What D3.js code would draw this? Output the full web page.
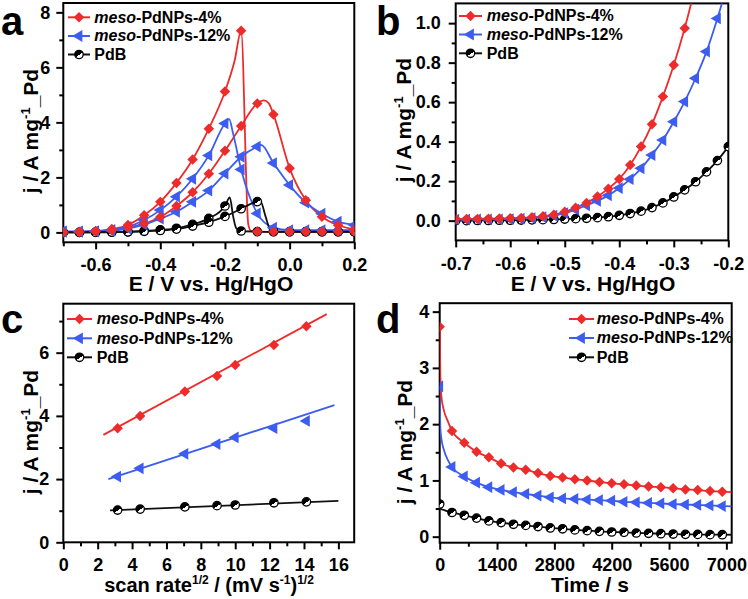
<!DOCTYPE html>
<html><head><meta charset="utf-8">
<script src="https://cdn.jsdelivr.net/npm/d3@7"></script>
<style>
body{margin:0;background:#fff}
svg{display:block}
text{font-family:"Liberation Sans",Arial,Helvetica,sans-serif;font-weight:bold;fill:#000}
</style>
</head><body>
<svg id="chart" width="748" height="599"></svg>
<script>
// ---------------- DATA ----------------
const seriesNames = ["meso-PdNPs-4%", "meso-PdNPs-12%", "PdB"];
const seriesColors = ["#ee2b2b", "#3d5cf0", "#111111"];

// Panel a: CV curves [E (V), j (A/mg)] — two branches per sample
const aRedUpper = [[-0.7,0.01],[-0.65,0.02],[-0.6,0.05],[-0.55,0.12],[-0.5,0.27],[-0.45,0.62],[-0.4,1.11],[-0.35,1.8],[-0.3,2.65],[-0.25,3.77],[-0.2,5.12],[-0.17,6.25],[-0.15,7.33],[-0.128,0.3],[-0.12,0.06],[-0.1,0.03],[-0.05,0.02],[0,0.02],[0.05,0.02],[0.1,0.02],[0.15,0.02],[0.2,0.02]];
const aRedLower = [[-0.7,0.0],[-0.65,0.01],[-0.6,0.03],[-0.55,0.08],[-0.5,0.18],[-0.45,0.32],[-0.4,0.56],[-0.35,0.96],[-0.3,1.46],[-0.25,2.13],[-0.2,2.97],[-0.15,3.87],[-0.1,4.69],[-0.08,4.8],[-0.065,4.7],[-0.05,4.29],[0,2.33],[0.05,1.17],[0.1,0.57],[0.15,0.26],[0.2,0.11]];
const aBlueUpper = [[-0.7,0.04],[-0.65,0.04],[-0.6,0.05],[-0.55,0.09],[-0.5,0.2],[-0.45,0.45],[-0.4,0.81],[-0.35,1.3],[-0.3,1.95],[-0.25,2.8],[-0.2,3.96],[-0.187,4.12],[-0.175,3.6],[-0.15,2.29],[-0.1,0.69],[-0.05,0.17],[0,0.08],[0.05,0.08],[0.1,0.08],[0.15,0.08],[0.2,0.08]];
const aBlueLower = [[-0.7,0.02],[-0.65,0.02],[-0.6,0.03],[-0.55,0.06],[-0.5,0.14],[-0.45,0.28],[-0.4,0.5],[-0.35,0.75],[-0.3,1.11],[-0.25,1.52],[-0.2,2.14],[-0.15,2.75],[-0.1,3.12],[-0.088,3.18],[-0.05,2.52],[0,1.72],[0.05,1.08],[0.1,0.68],[0.15,0.39],[0.2,0.27]];
const aBlackUpper = [[-0.7,0.0],[-0.65,0.0],[-0.6,0.01],[-0.55,0.01],[-0.5,0.02],[-0.45,0.05],[-0.4,0.09],[-0.35,0.15],[-0.3,0.29],[-0.25,0.51],[-0.2,0.96],[-0.185,1.27],[-0.175,0.6],[-0.165,0.15],[-0.15,0.05],[-0.1,0.03],[-0.05,0.02],[0,0.02],[0.05,0.02],[0.1,0.02],[0.15,0.02],[0.2,0.02]];
const aBlackLower = [[-0.7,0.0],[-0.65,0.0],[-0.6,0.0],[-0.55,0.01],[-0.5,0.02],[-0.45,0.04],[-0.4,0.07],[-0.35,0.12],[-0.3,0.23],[-0.25,0.37],[-0.2,0.58],[-0.15,0.86],[-0.1,1.12],[-0.09,1.13],[-0.075,0.6],[-0.06,0.1],[-0.05,0.05],[0,0.03],[0.05,0.03],[0.1,0.03],[0.15,0.03],[0.2,0.03]];

// Panel b: LSV, potential (V) and current (A/mg)
const bE = [-0.7,-0.68,-0.66,-0.64,-0.62,-0.6,-0.58,-0.56,-0.54,-0.52,-0.5,-0.48,-0.46,-0.44,-0.42,-0.4,-0.38,-0.36,-0.34,-0.32,-0.3,-0.28,-0.26,-0.24,-0.22,-0.2];
const bRed = [0.008,0.009,0.009,0.010,0.011,0.012,0.014,0.017,0.022,0.030,0.045,0.065,0.090,0.122,0.162,0.211,0.282,0.375,0.488,0.628,0.788,0.974,1.19,1.42,1.68,1.95];
const bBlue = [0.005,0.005,0.006,0.006,0.007,0.008,0.010,0.013,0.018,0.026,0.038,0.056,0.078,0.100,0.128,0.165,0.210,0.265,0.332,0.408,0.501,0.603,0.721,0.856,1.024,1.21];
const bBlack = [0.0,0.0,0.001,0.001,0.002,0.002,0.003,0.004,0.005,0.006,0.008,0.010,0.012,0.015,0.020,0.027,0.036,0.048,0.066,0.090,0.120,0.156,0.197,0.247,0.304,0.375];

// Panel c: scan-rate dependence
const cX = [3.16, 4.47, 7.07, 8.94, 10.0, 12.25, 14.14];
const cRed = [3.61, 4.0, 4.77, 5.26, 5.61, 6.24, 6.84];
const cBlue = [2.08, 2.34, 2.80, 3.11, 3.32, 3.61, 3.84];
const cBlack = [1.02, 1.05, 1.12, 1.16, 1.18, 1.25, 1.28];
const cFitRed = [[2.33, 3.40], [15.32, 7.22]];
const cFitBlue = [[2.62, 2.00], [15.77, 4.34]];
const cFitBlack = [[2.72, 1.01], [16.0, 1.31]];

// Panel d: chronoamperometry, time (s)
const dT = [0,300,600,900,1200,1500,1800,2100,2400,2700,3000,3300,3600,3900,4200,4500,4800,5100,5400,5700,6000,6300,6600,6900];
const dRed = [3.73,1.88,1.67,1.51,1.41,1.30,1.23,1.19,1.13,1.08,1.05,1.02,1.00,0.97,0.95,0.93,0.91,0.89,0.88,0.86,0.84,0.83,0.81,0.80];
const dBlue = [2.67,1.24,1.07,0.96,0.88,0.83,0.79,0.76,0.73,0.70,0.68,0.67,0.66,0.65,0.64,0.62,0.61,0.60,0.59,0.58,0.57,0.565,0.555,0.545];
const dBlack = [0.58,0.43,0.38,0.33,0.28,0.25,0.22,0.20,0.18,0.155,0.14,0.12,0.107,0.095,0.083,0.077,0.065,0.06,0.053,0.047,0.041,0.040,0.036,0.035];
// extra curve points for the initial fast decay and the tail
const dRedExtra = [[15,2.9],[40,2.5],[100,2.25],[200,2.05],[7130,0.79]];
const dBlueExtra = [[15,1.95],[40,1.75],[100,1.55],[200,1.36],[7130,0.54]];
const dBlackStart = [[0,0.5]];
const dBlackExtra = [[7130,0.034]];

// ---------------- DRAWING ----------------
const svg = d3.select("#chart");
const defs = svg.append("defs");
const grad = defs.append("linearGradient").attr("id","halfFill")
  .attr("x1","0").attr("y1","0").attr("x2","0.7").attr("y2","1");
grad.append("stop").attr("offset","0").attr("stop-color","#000");
grad.append("stop").attr("offset","0.62").attr("stop-color","#000");
grad.append("stop").attr("offset","0.62").attr("stop-color","#fff");
grad.append("stop").attr("offset","1").attr("stop-color","#fff");

const symDiamond = d3.symbol().type(d3.symbolDiamond2).size(70)();
const symTri = d3.symbol().type(d3.symbolTriangle).size(60)();

function drawMarker(g, idx, px, py) {
  if (idx === 0) {
    g.append("path").attr("d", symDiamond).attr("transform", `translate(${px},${py})`)
      .attr("fill", seriesColors[0]);
  } else if (idx === 1) {
    g.append("path").attr("d", symTri).attr("transform", `translate(${px},${py}) rotate(-90)`)
      .attr("fill", seriesColors[1]);
  } else {
    g.append("circle").attr("cx", px).attr("cy", py).attr("r", 4.2)
      .attr("fill", "url(#halfFill)").attr("stroke", "#000").attr("stroke-width", 1.3);
  }
}

let clipCount = 0;
function makePanel(p) {
  const g = svg.append("g");
  const x = p.x, y = p.y;
  const [x0, x1] = x.range(), [y0, y1] = y.range();
  const id = "clip" + (clipCount++);
  defs.append("clipPath").attr("id", id).append("rect")
    .attr("x", x0).attr("y", y1).attr("width", x1 - x0).attr("height", y0 - y1);
  const styleAxis = (sel, fs) => {
    sel.select(".domain").remove();
    sel.attr("font-family", null).attr("font-size", null);
    sel.selectAll("line").attr("stroke", "#000").attr("stroke-width", 2);
    sel.selectAll("text").attr("font-size", fs).attr("fill", "#000");
  };
  // bottom axis
  const gb = g.append("g").attr("transform", `translate(0,${y0})`);
  gb.append("g").call(d3.axisBottom(x).tickValues(p.xMinor).tickSize(4).tickFormat("")).call(s => styleAxis(s, 18));
  gb.append("g").call(d3.axisBottom(x).tickValues(p.xMajor).tickSize(7).tickPadding(p.xPad).tickFormat(p.xFmt)).call(s => styleAxis(s, 18));
  // left axis
  const gl = g.append("g").attr("transform", `translate(${x0},0)`);
  gl.append("g").call(d3.axisLeft(y).tickValues(p.yMinor).tickSize(4).tickFormat("")).call(s => styleAxis(s, 18));
  gl.append("g").call(d3.axisLeft(y).tickValues(p.yMajor).tickSize(7).tickPadding(p.yPad).tickFormat(p.yFmt)).call(s => styleAxis(s, 18));
  // frame
  g.append("rect").attr("x", x0).attr("y", y1).attr("width", x1 - x0).attr("height", y0 - y1)
    .attr("fill", "none").attr("stroke", "#000").attr("stroke-width", 2);
  const plot = g.append("g").attr("clip-path", `url(#${id})`);
  // panel letter
  g.append("text").attr("x", p.letterX).attr("y", p.letterY).attr("font-size", 40).text(p.letter);
  // x title
  const xt = g.append("text").attr("x", p.xTitleX).attr("y", p.xTitleY).attr("text-anchor", "middle").attr("font-size", p.xTitleSize || 21);
  p.xTitle(xt);
  // y title
  const yt = g.append("text").attr("transform", `translate(${p.yTitleX},${p.yTitleY}) rotate(-90)`)
    .attr("text-anchor", "middle").attr("font-size", 21);
  yt.append("tspan").text("j / A mg");
  yt.append("tspan").attr("font-size", 13).attr("dy", -8).text("-1");
  yt.append("tspan").attr("dy", 8).text("_Pd");
  // legend
  const lg = g.append("g");
  seriesNames.forEach((name, i) => {
    const ly = p.legY[i];
    lg.append("line").attr("x1", p.legX0).attr("x2", p.legX1).attr("y1", ly).attr("y2", ly)
      .attr("stroke", seriesColors[i]).attr("stroke-width", 2);
    drawMarker(lg, i, (p.legX0 + p.legX1) / 2, ly);
    const t = lg.append("text").attr("x", p.legTX).attr("y", ly).attr("dy", "0.34em").attr("font-size", 16);
    if (name.startsWith("meso")) {
      t.append("tspan").attr("font-style", "italic").text("meso");
      t.append("tspan").text(name.slice(4));
    } else t.text(name);
  });
  return {g, plot, x, y};
}

function drawLine(P, pts, idx, curve) {
  P.plot.append("path").datum(pts)
    .attr("d", d3.line().x(d => P.x(d[0])).y(d => P.y(d[1])).curve(curve || d3.curveMonotoneX))
    .attr("fill", "none").attr("stroke", seriesColors[idx]).attr("stroke-width", 1.8);
}
function drawMarkers(P, pts, idx) {
  pts.forEach(d => drawMarker(P.plot, idx, P.x(d[0]), P.y(d[1])));
}
const fmt1 = v => v.toFixed(1);
const fmt0 = v => String(v);

// ---- Panel a
const PA = makePanel({
  x: d3.scaleLinear([-0.7, 0.2], [63.3, 354.3]),
  y: d3.scaleLinear([-0.36, 8.34], [242.3, 3]),
  xMajor: [-0.6, -0.4, -0.2, 0, 0.2], xMinor: [-0.7, -0.5, -0.3, -0.1, 0.1], xFmt: fmt1, xPad: 8.5,
  yMajor: [0, 2, 4, 6, 8], yMinor: [1, 3, 5, 7], yFmt: fmt0, yPad: 6,
  letter: "a", letterX: 1, letterY: 35,
  xTitleX: 211, xTitleY: 291, xTitle: t => t.text("E / V vs. Hg/HgO"),
  yTitleX: 38, yTitleY: 131,
  legX0: 68, legX1: 90, legTX: 94.3, legY: [17.3, 36, 54.5]
});
const on005 = d => Math.abs(d[0] / 0.05 - Math.round(d[0] / 0.05)) < 1e-6;
[[aRedUpper, 0], [aRedLower, 0], [aBlueUpper, 1], [aBlueLower, 1], [aBlackUpper, 2], [aBlackLower, 2]]
  .forEach(([pts, i]) => drawLine(PA, pts, i));
[[aBlackUpper, 2], [aBlackLower, 2], [aBlueUpper, 1], [aBlueLower, 1], [aRedUpper, 0], [aRedLower, 0]]
  .forEach(([pts, i]) => drawMarkers(PA, pts.filter(on005), i));

// ---- Panel b
const PB = makePanel({
  x: d3.scaleLinear([-0.7, -0.2], [455.7, 728.3]),
  y: d3.scaleLinear([-0.1, 1.1], [240.4, 3.4]),
  xMajor: [-0.7, -0.6, -0.5, -0.4, -0.3, -0.2], xMinor: [-0.65, -0.55, -0.45, -0.35, -0.25], xFmt: fmt1, xPad: 9.5,
  yMajor: [0, 0.2, 0.4, 0.6, 0.8, 1.0], yMinor: [0.1, 0.3, 0.5, 0.7, 0.9], yFmt: fmt1, yPad: 8,
  letter: "b", letterX: 376, letterY: 35,
  xTitleX: 593, xTitleY: 291, xTitle: t => t.text("E / V vs. Hg/HgO"),
  yTitleX: 411, yTitleY: 120,
  legX0: 459, legX1: 482, legTX: 486.7, legY: [16, 34.5, 53.3]
});
[[bBlack, 2], [bBlue, 1], [bRed, 0]].forEach(([vals, i]) => {
  const pts = bE.map((e, k) => [e, vals[k]]);
  drawLine(PB, pts, i);
});
[[bBlack, 2], [bBlue, 1], [bRed, 0]].forEach(([vals, i]) => {
  drawMarkers(PB, bE.map((e, k) => [e, vals[k]]), i);
});

// ---- Panel c
const PC = makePanel({
  x: d3.scaleLinear([0, 16.92], [63.3, 354.2]),
  y: d3.scaleLinear([0, 7.55], [542.3, 303.7]),
  xMajor: [0, 2, 4, 6, 8, 10, 12, 14, 16], xMinor: [1, 3, 5, 7, 9, 11, 13, 15], xFmt: fmt0, xPad: 9,
  yMajor: [0, 2, 4, 6], yMinor: [1, 3, 5, 7], yFmt: fmt0, yPad: 7,
  letter: "c", letterX: 1, letterY: 333,
  xTitleX: 209, xTitleY: 592, xTitleSize: 20, xTitle: t => {
    t.append("tspan").text("scan rate");
    t.append("tspan").attr("font-size", 12).attr("dy", -8).text("1/2");
    t.append("tspan").attr("dy", 8).text(" / (mV s");
    t.append("tspan").attr("font-size", 12).attr("dy", -8).text("-1");
    t.append("tspan").attr("dy", 8).text(")");
    t.append("tspan").attr("font-size", 12).attr("dy", -8).text("1/2");
  },
  yTitleX: 38, yTitleY: 432,
  legX0: 67, legX1: 92, legTX: 96.7, legY: [319, 338.3, 357.3]
});
[[cFitRed, 0], [cFitBlue, 1], [cFitBlack, 2]].forEach(([pts, i]) => drawLine(PC, pts, i, d3.curveLinear));
[[cRed, 0], [cBlue, 1], [cBlack, 2]].forEach(([vals, i]) => drawMarkers(PC, cX.map((v, k) => [v, vals[k]]), i));

// ---- Panel d
const PD = makePanel({
  x: d3.scaleLinear([0, 7130], [439.7, 731.7]),
  y: d3.scaleLinear([-0.107, 4.15], [542.7, 303.2]),
  xMajor: [0, 1400, 2800, 4200, 5600, 7000], xMinor: [700, 2100, 3500, 4900, 6300], xFmt: fmt0, xPad: 9,
  yMajor: [0, 1, 2, 3, 4], yMinor: [0.5, 1.5, 2.5, 3.5], yFmt: fmt0, yPad: 3.5,
  letter: "d", letterX: 376, letterY: 333,
  xTitleX: 590, xTitleY: 592, xTitle: t => t.text("Time / s"),
  yTitleX: 411.5, yTitleY: 442,
  legX0: 569, legX1: 594, legTX: 596.7, legY: [319, 338, 357.3]
});
const byT = (a, b) => a[0] - b[0];
drawLine(PD, dT.map((t, k) => [t, dBlack[k]]).slice(1).concat(dBlackStart, dBlackExtra).sort(byT), 2);
drawLine(PD, dT.map((t, k) => [t, dBlue[k]]).concat(dBlueExtra).sort(byT), 1);
drawLine(PD, dT.map((t, k) => [t, dRed[k]]).concat(dRedExtra).sort(byT), 0);
[[dBlack, 2], [dBlue, 1], [dRed, 0]].forEach(([vals, i]) => drawMarkers(PD, dT.map((t, k) => [t, vals[k]]), i));
</script>
</body></html>
